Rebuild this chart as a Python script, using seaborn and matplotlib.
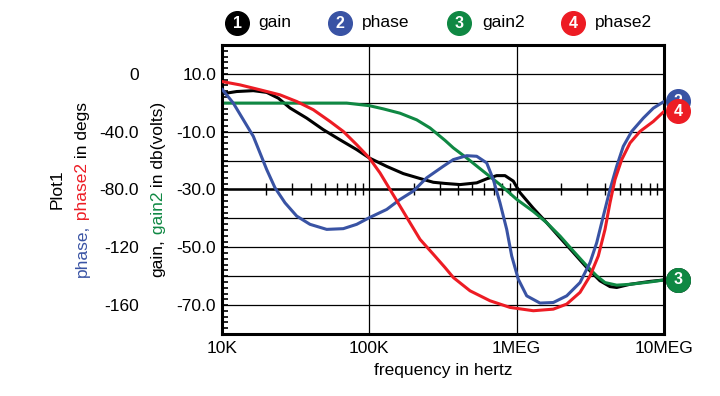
import matplotlib
matplotlib.use("Agg")
import matplotlib.pyplot as plt
import matplotlib.ticker as mticker
from matplotlib.transforms import offset_copy
import seaborn as sns
import numpy as np

# values, frequency in Hz
gain_freq = [1.0e4, 1.258e4, 1.631e4, 2.011e4, 2.411e4, 2.894e4, 3.757e4, 4.871e4, 6.322e4, 8.209e4,
             1.0e5, 1.312e5, 1.701e5, 2.208e5, 2.718e5, 3.263e5, 4.125e5, 5.356e5, 6.261e5, 7.319e5,
             8.334e5, 9.488e5, 1.054e6, 1.297e6, 1.599e6, 1.969e6, 2.424e6, 2.988e6, 3.679e6, 4.300e6,
             4.775e6, 5.880e6, 8.037e6, 1.0e7]
gain_db = [3.1, 3.9, 4.2, 3.6, 1.6, -1.8, -5.3, -9.3, -12.8, -16.2,
           -19.1, -22.0, -24.5, -26.2, -27.5, -27.9, -28.3, -27.7, -26.3, -25.2,
           -25.2, -27.1, -31.1, -36.5, -41.5, -46.7, -51.8, -57.0, -61.6, -63.6,
           -63.9, -62.8, -61.8, -61.3]

gain2_freq = [1.0e4, 7.019e4, 1.0e5, 1.244e5, 1.615e5, 2.097e5, 2.581e5, 3.263e5, 3.715e5, 4.581e5,
              5.936e5, 7.706e5, 1.0e6, 1.297e6, 1.599e6, 1.969e6, 2.424e6, 2.988e6, 3.494e6, 3.978e6,
              4.775e6, 5.880e6, 8.037e6, 1.0e7]
gain2_db = [-0.1, -0.1, -1.0, -2.1, -3.6, -5.9, -8.7, -13.0, -15.6, -19.1,
            -23.7, -28.3, -33.4, -37.6, -41.5, -46.1, -51.3, -56.4, -59.9, -62.2,
            -63.1, -62.8, -62.0, -61.3]

phase_freq = [1.0e4, 1.193e4, 1.395e4, 1.631e4, 1.811e4, 2.011e4, 2.289e4, 2.677e4, 3.214e4, 3.956e4,
              5.136e4, 6.656e4, 8.209e4, 1.0e5, 1.312e5, 1.615e5, 1.988e5, 2.452e5, 3.178e5, 3.715e5,
              4.581e5, 5.356e5, 6.261e5, 6.940e5, 7.706e5, 8.558e5, 9.253e5, 1.026e6, 1.170e6, 1.440e6,
              1.773e6, 2.186e6, 2.691e6, 3.148e6, 3.494e6, 3.874e6, 4.300e6, 4.775e6, 5.294e6, 6.038e6,
              7.236e6, 8.463e6, 1.0e7]
phase_deg = [-10.5, -20.2, -31.7, -43.2, -54.7, -66.2, -78.8, -89.2, -98.4, -104.1,
             -107.6, -107.1, -104.1, -99.5, -93.8, -86.9, -81.1, -71.9, -63.9, -59.3,
             -56.6, -57.0, -61.6, -73.1, -89.2, -107.6, -126.0, -142.1, -153.6, -158.6,
             -158.2, -153.6, -144.4, -130.6, -116.8, -98.4, -80.0, -63.9, -50.1, -39.8,
             -30.6, -23.7, -19.1]

phase2_freq = [1.0e4, 1.325e4, 1.811e4, 2.476e4, 3.214e4, 4.166e4, 5.408e4, 6.656e4, 8.209e4, 1.0e5,
               1.181e5, 1.381e5, 1.615e5, 1.888e5, 2.208e5, 2.718e5, 3.263e5, 3.715e5, 4.823e5, 6.592e5,
               9.012e5, 1.297e6, 1.773e6, 2.186e6, 2.691e6, 3.148e6, 3.582e6, 3.978e6, 4.300e6, 4.650e6,
               5.164e6, 5.880e6, 6.873e6, 8.463e6, 1.0e7]
phase2_deg = [-5.3, -7.6, -11.0, -14.5, -19.1, -24.8, -32.9, -39.8, -49.0, -58.2,
              -68.5, -80.0, -91.5, -103.0, -114.5, -124.8, -134.0, -140.9, -150.1, -157.0,
              -161.6, -163.9, -162.8, -159.3, -151.2, -139.8, -126.0, -107.6, -89.2, -73.1,
              -59.3, -47.8, -39.8, -32.9, -26.0]

x_ticks = [1e4, 1e5, 1e6, 1e7]
x_tick_labels = ["10K", "100K", "1MEG", "10MEG"]
phase_ticks = [0, -40, -80, -120, -160]
phase_tick_labels = ["0", "-40.0", "-80.0", "-120", "-160"]

BLACK = "#000000"
BLUE = "#3953a4"
GREEN = "#0f8843"
RED = "#ed1c24"
FS = 12.5

sns.set_theme(style="white", rc={"text.color": "black", "axes.labelcolor": "black",
                                  "xtick.color": "black", "ytick.color": "black"})
plt.rcParams["font.family"] = ["Liberation Sans", "DejaVu Sans"]
plt.rcParams["axes.unicode_minus"] = False

fig = plt.figure(figsize=(7.2, 3.96), dpi=100)
ax = fig.add_axes([222 / 720, 1 - 334 / 396, 442 / 720, 289 / 396])
ax.set_xscale("log")
ax2 = ax.twinx()

sns.lineplot(x=gain_freq, y=gain_db, ax=ax, color=BLACK, lw=2.2, estimator=None, sort=False)
sns.lineplot(x=gain2_freq, y=gain2_db, ax=ax, color=GREEN, lw=2.2, estimator=None, sort=False)
sns.lineplot(x=phase_freq, y=phase_deg, ax=ax2, color=BLUE, lw=2.2, estimator=None, sort=False)
sns.lineplot(x=phase2_freq, y=phase2_deg, ax=ax2, color=RED, lw=2.2, estimator=None, sort=False)

# gain axis
ax.set_xlim(1e4, 1e7)
ax.set_ylim(-80, 20)
ax.set_xticks(x_ticks, x_tick_labels)
ax.xaxis.set_minor_locator(mticker.NullLocator())
ax.tick_params(axis="x", length=0, pad=5, labelsize=FS)
ax.yaxis.set_major_locator(mticker.MultipleLocator(10))
ax.yaxis.set_minor_locator(mticker.MultipleLocator(2))
ax.yaxis.set_major_formatter(mticker.FuncFormatter(
    lambda v, p: f"{v:.1f}" if round(v) % 20 == 10 else ""))
ax.tick_params(axis="y", which="both", direction="in", length=4.5, width=1.2,
               left=True, right=False, pad=4.3, labelsize=FS)
ax.grid(True, which="major", color="black", lw=0.9)
ax.set_xlabel("frequency in hertz", fontsize=FS, labelpad=5)
ax.set_ylabel("")
for sp in ax.spines.values():
    sp.set_visible(True)
    sp.set_color("black")
    sp.set_linewidth(2.2)

# heavy line at -30 dB with the decade minor ticks
sec = ax.secondary_xaxis(0.5)
for sp in sec.spines.values():
    sp.set_linewidth(1.8)
    sp.set_color("black")
sec.xaxis.set_major_locator(mticker.FixedLocator(x_ticks))
sec.xaxis.set_minor_locator(mticker.LogLocator(base=10, subs=np.arange(2, 10)))
sec.xaxis.set_major_formatter(mticker.NullFormatter())
sec.xaxis.set_minor_formatter(mticker.NullFormatter())
sec.tick_params(which="minor", direction="inout", length=8, width=1)
sec.tick_params(which="major", length=0)

# phase axis, drawn further left
ax2.set_ylim(-180, 20)
ax2.yaxis.set_ticks_position("left")
ax2.spines["left"].set_position(("outward", 55.4))
for sp in ax2.spines.values():
    sp.set_visible(False)
ax2.set_yticks(phase_ticks, phase_tick_labels)
ax2.tick_params(axis="y", length=0, pad=4.3, labelsize=FS)
ax2.set_ylabel("")
ax2.grid(False)

# numbered badges at the ends of the traces
def end_badge(axis, fx, fy, num, color, z):
    tr = offset_copy(axis.transData, fig=fig, x=14, y=0, units="dots")
    axis.plot([fx], [fy], "o", ms=17, color=color, transform=tr, clip_on=False, zorder=z)
    axis.text(fx, fy, num, transform=tr, ha="center", va="center", color="white",
              fontsize=11.5, fontweight="bold", clip_on=False, zorder=z + 0.5)

end_badge(ax, gain_freq[-1], gain_db[-1], "1", BLACK, 10)
end_badge(ax, gain2_freq[-1], gain2_db[-1], "3", GREEN, 11)
end_badge(ax2, phase_freq[-1], phase_deg[-1], "2", BLUE, 10)
end_badge(ax2, phase2_freq[-1], phase2_deg[-1], "4", RED, 11)

# legend row
legend = [("1", "gain", BLACK, 237, 258), ("2", "phase", BLUE, 340, 362),
          ("3", "gain2", GREEN, 459, 482), ("4", "phase2", RED, 573, 595)]
ly = 1 - 23 / 396
for num, name, col, cx, tx in legend:
    fig.add_artist(plt.Line2D([cx / 720], [ly], marker="o", ms=17, color=col,
                              transform=fig.transFigure))
    fig.text(cx / 720, ly, num, ha="center", va="center", color="white",
             fontsize=11.5, fontweight="bold")
    fig.text(tx / 720, ly, name, ha="left", va="center", fontsize=FS)

# vertical axis titles, some words coloured
def vlabel(xpx, parts):
    first = fig.text(xpx / 720, 0.5, parts[0][0], color=parts[0][1], rotation=90,
                     ha="center", va="bottom", fontsize=FS)
    pieces = [first]
    t = first
    for s, c in parts[1:]:
        t = ax.annotate(s, xy=(0.5, 1), xycoords=t, ha="center", va="bottom",
                        rotation=90, color=c, fontsize=FS, annotation_clip=False)
        pieces.append(t)
    fig.canvas.draw()
    r = fig.canvas.get_renderer()
    lo = min(p.get_window_extent(r).y0 for p in pieces)
    hi = max(p.get_window_extent(r).y1 for p in pieces)
    centre = (1 - 189.5 / 396) * fig.bbox.height
    first.set_y((0.5 * fig.bbox.height + centre - (lo + hi) / 2) / fig.bbox.height)

fig.text(57 / 720, 1 - 189.5 / 396, "Plot1", rotation=90, ha="center", va="center", fontsize=FS)
vlabel(82, [("phase,", BLUE), (" phase2", RED), (" in degs", BLACK)])
vlabel(158, [("gain,", BLACK), (" gain2", GREEN), (" in db(volts)", BLACK)])

fig.savefig("out.png", dpi=100)
